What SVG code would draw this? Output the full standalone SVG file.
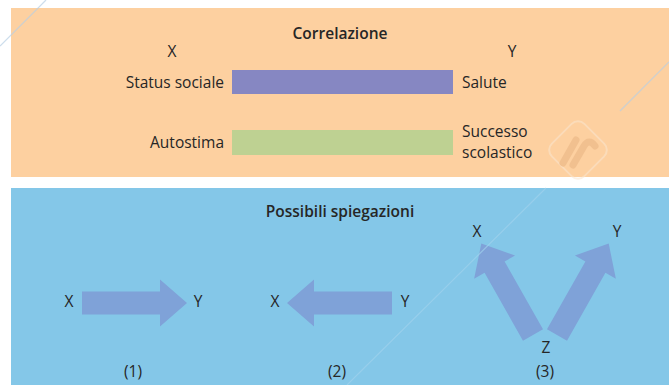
<svg xmlns="http://www.w3.org/2000/svg" width="669" height="385" viewBox="0 0 669 385">
  <defs>
    <style>
      .lbl { font-family: "Open Sans", "Liberation Sans", sans-serif; font-size: 15.5px; fill: #262626; }
      .ttl { font-family: "Open Sans", "Liberation Sans", sans-serif; font-size: 15.5px; font-weight: 600; fill: #262626; }
      .mid { text-anchor: middle; }
      .end { text-anchor: end; }
      .arrow { fill: #7fa2d8; }
      .mark { fill: none; stroke: #b8cfe4; stroke-width: 1.2; opacity: 0.7; }
    </style>
    <!-- block arrow pointing along +x, origin at the middle of its tail -->
    <path id="blockArrow" d="M0,-11.5 H78 V-23.5 L105,0 L78,23.5 V11.5 H0 Z"/>
  </defs>

  <rect width="669" height="385" fill="#ffffff"/>

  <!-- upper panel: correlation -->
  <g id="panel-correlazione">
    <rect x="11" y="8" width="658" height="169" fill="#fdd0a0"/>
    <text class="ttl mid" x="340" y="39">Correlazione</text>
    <text class="lbl mid" x="172" y="57">X</text>
    <text class="lbl mid" x="512" y="57">Y</text>
  </g>

  <g id="row-status">
    <text class="lbl end" x="224" y="88">Status sociale</text>
    <rect x="232" y="70" width="221" height="24" fill="#8687c2"/>
    <text class="lbl" x="462" y="88">Salute</text>
  </g>

  <g id="row-autostima">
    <text class="lbl end" x="224" y="148">Autostima</text>
    <rect x="232" y="130" width="221" height="25" fill="#bed192"/>
    <text class="lbl" x="462" y="136.5">Successo</text>
    <text class="lbl" x="462" y="158">scolastico</text>
  </g>

  <!-- lower panel: possible explanations -->
  <g id="panel-spiegazioni">
    <rect x="11" y="188" width="658" height="197" fill="#84c7e8"/>
    <text class="ttl mid" x="340" y="217">Possibili spiegazioni</text>
  </g>

  <g id="case-1">
    <text class="lbl mid" x="69" y="307">X</text>
    <text class="lbl mid" x="198" y="307">Y</text>
    <text class="lbl mid" x="133" y="377">(1)</text>
  </g>

  <g id="case-2">
    <text class="lbl mid" x="275" y="307">X</text>
    <text class="lbl mid" x="405" y="307">Y</text>
    <text class="lbl mid" x="337" y="377">(2)</text>
  </g>

  <g id="case-3">
    <text class="lbl mid" x="477" y="237">X</text>
    <text class="lbl mid" x="617" y="237">Y</text>
    <text class="lbl mid" x="546" y="353">Z</text>
    <text class="lbl mid" x="545" y="377">(3)</text>
  </g>

  <g id="connectors">
    <use href="#blockArrow" class="arrow" transform="translate(82,303)"/>
    <use href="#blockArrow" class="arrow" transform="translate(392,303) rotate(180)"/>
    <use href="#blockArrow" class="arrow" transform="translate(533,335) rotate(-119.5)"/>
    <use href="#blockArrow" class="arrow" transform="translate(557,335) rotate(-60.5)"/>
  </g>

  <!-- faint diagonal hairlines and stamp -->
  <g id="overlay">
    <line class="mark" x1="0" y1="46" x2="46" y2="0"/>
    <line class="mark" x1="620" y1="111" x2="669" y2="62"/>
    <line class="mark" x1="347" y1="385" x2="546" y2="188" style="stroke:#9fd2ec"/>
    <g opacity="0.55">
      <rect x="555" y="127" width="46" height="46" rx="9" transform="rotate(45 578 150)" fill="none" stroke="#fbe6cf" stroke-width="2"/>
      <path d="M563,163 L576,140 M573,165 L584,146 Q589,138 595,146" fill="none" stroke="#e8b482" stroke-width="7" stroke-linecap="round"/>
    </g>
  </g>
</svg>
